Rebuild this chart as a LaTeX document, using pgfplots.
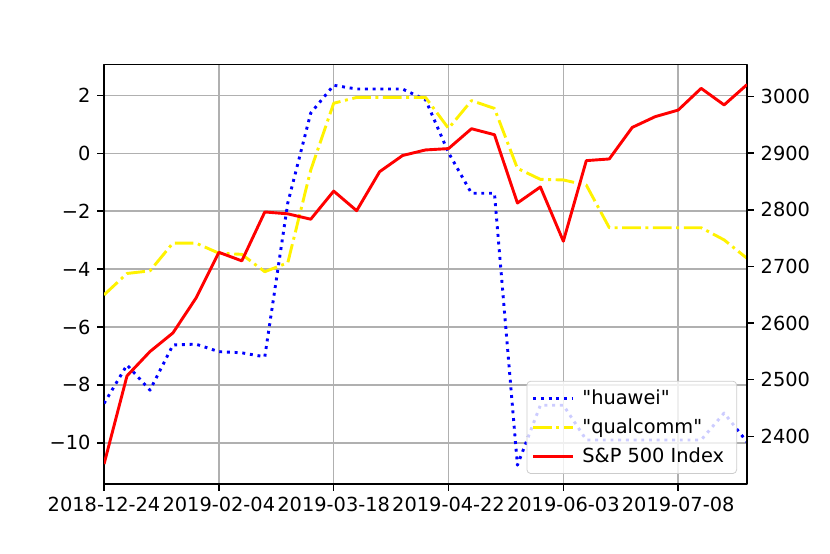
\documentclass[border=0pt]{standalone}
\usepackage{fontspec}
\setmainfont{DejaVu Sans}[Ligatures=TeXOff]
\usepackage{pgfplots}
\pgfplotsset{compat=1.18}

% weekly values, one row per week (holiday weeks are left out)
\pgfplotstableread{
i  huawei  qualcomm  sp
0  -8.64   -4.89     2351.10
1  -7.31   -4.15     2506.85
2  -8.18   -4.06     2549.69
3  -6.62   -3.10     2582.61
4  -6.59   -3.10     2643.85
5  -6.85   -3.45     2724.87
6  -6.89   -3.49     2709.80
7  -7.03   -4.09     2796.11
8  -1.72   -3.78     2792.81
9   1.39   -0.58     2783.30
10  2.35    1.73     2832.94
11  2.22    1.93     2798.36
12  2.22    1.93     2867.19
13  2.22    1.93     2895.77
14  1.85    1.93     2905.58
15  0.02    0.86     2907.97
16 -1.38    1.82     2943.03
17 -1.38    1.55     2932.47
18 -10.77  -0.52     2811.87
19 -8.70   -0.90     2840.23
20 -8.70   -0.92     2744.45
21 -9.90   -1.10     2886.73
22 -9.90   -2.57     2889.67
23 -9.90   -2.57     2945.35
24 -9.90   -2.57     2964.33
25 -9.90   -2.57     2975.95
26 -9.90   -2.57     3014.30
27 -8.97   -2.99     2985.03
28 -9.97   -3.63     3020.97
}\weekly

\tikzset{
  huaweistyle/.style={blue, line width=1.5pt, dash pattern=on 1.5pt off 2.475pt},
  qualstyle/.style={yellow, line width=1.5pt, dash pattern=on 9.6pt off 2.4pt on 1.5pt off 2.4pt},
  spstyle/.style={red, line width=1.5pt},
}

\begin{document}
\begin{tikzpicture}[font=\fontsize{10}{12}\selectfont]
\pgfplotsset{
  every axis/.append style={
    scale only axis, width=331.9pt, height=216.4pt,
    xmin=0, xmax=28,
    tick align=outside, major tick length=3.5pt,
    every tick/.style={black, line width=0.8pt},
    axis line style={line width=0.8pt},
    tick label style={font=\fontsize{10}{12}\selectfont},
  }
}
\begin{axis}[
  ymin=-11.42, ymax=3.06,
  xtick={0,5,...,25},
  xticklabels={2018-12-24,2019-02-04,2019-03-18,2019-04-22,2019-06-03,2019-07-08},
  ytick={-10,-8,...,2},
  yticklabels={−10,−8,−6,−4,−2,0,2},
  xtick pos=bottom, ytick pos=left,
  grid=major, major grid style={black!31, line width=0.8pt},
  line join=round,
]
\addplot[huaweistyle] table[x=i, y=huawei]{\weekly};
\addplot[qualstyle] table[x=i, y=qualcomm]{\weekly};
\end{axis}
\begin{axis}[
  ymin=2316, ymax=3056,
  axis x line=none, axis y line*=right,
  ytick={2400,2500,...,3000},
  yticklabels={2400,2500,2600,2700,2800,2900,3000},
  line join=round,
  legend cell align=left,
  legend image code/.code={\draw[#1] (0pt,0pt) -- (20.6pt,0pt);},
  legend style={at={(0.9844,0.0239)}, anchor=south east,
    draw=black!20, fill=white, fill opacity=0.8, draw opacity=1, text opacity=1,
    rounded corners=2pt, inner xsep=2.5pt, inner ysep=1.5pt, row sep=0pt,
    font=\fontsize{10}{12}\selectfont,
    nodes={inner xsep=4pt, inner ysep=2.9pt}},
]
\addlegendimage{huaweistyle}
\addlegendentry{"huawei"}
\addlegendimage{qualstyle}
\addlegendentry{"qualcomm"}
\addplot[spstyle] table[x=i, y=sp]{\weekly};
\addlegendentry{S\&P 500 Index}
\end{axis}
\pgfresetboundingbox
\path (-53.7pt,-36.1pt) rectangle (374.7pt,249.8pt);
\end{tikzpicture}
\end{document}
